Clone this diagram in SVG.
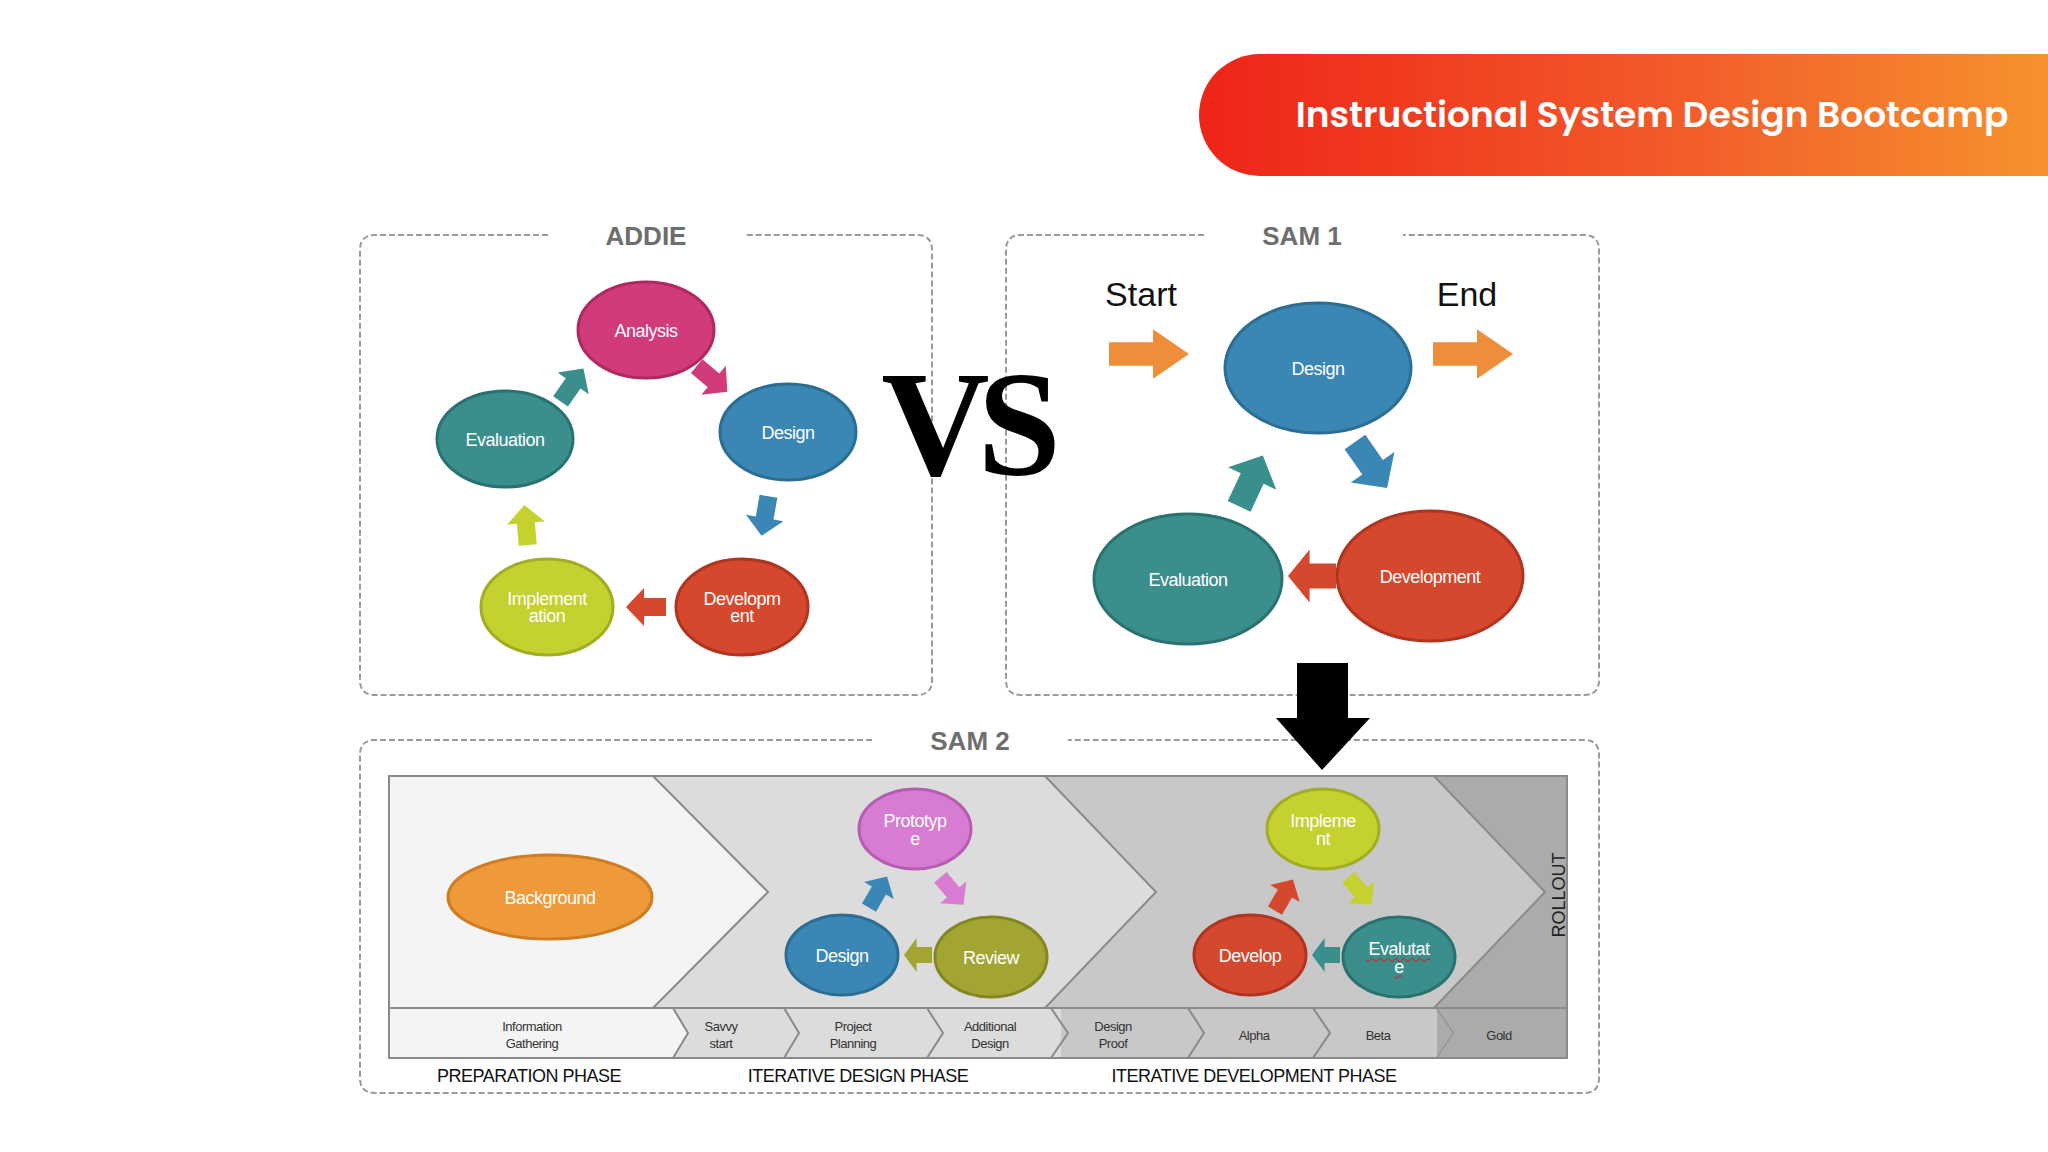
<svg xmlns="http://www.w3.org/2000/svg" width="2048" height="1152" viewBox="0 0 2048 1152">
<defs>
<linearGradient id="bg" x1="0" y1="0" x2="1" y2="0"><stop offset="0" stop-color="#EE2418"/><stop offset="0.55" stop-color="#F25A2A"/><stop offset="1" stop-color="#F6922E"/></linearGradient>
<path id="ar" d="M-20,-9 H2 V-19 L20,0 L2,19 V9 H-20 Z"/>
<style>
.box{fill:none;stroke:#9a9a9a;stroke-width:2;stroke-dasharray:6 3}
.ttl{font-family:"Liberation Sans",Arial,sans-serif;font-weight:bold;fill:#6e6e6e;font-size:26px;text-anchor:middle}
.n{stroke-width:3}
.lb{font-family:"Liberation Sans",Arial,sans-serif;fill:#fff;font-size:18px;text-anchor:middle;letter-spacing:-0.5px}
.sm{font-family:"Liberation Sans",Arial,sans-serif;fill:#333;font-size:13px;text-anchor:middle;letter-spacing:-0.5px}
.ph{font-family:"Liberation Sans",Arial,sans-serif;fill:#111;font-size:18px;text-anchor:middle;letter-spacing:-0.5px}
.sep{fill:none;stroke:#8a8a8a;stroke-width:2}
</style>
</defs>
<rect width="2048" height="1152" fill="#fff"/>
<g id="banner">
<path d="M1260,54 H2048 V176 H1260 A61,61 0 0 1 1260,54 Z" fill="url(#bg)"/>
<text x="1652" y="127" font-family="Poppins,Inter,'Open Sans',sans-serif" font-weight="600" font-size="36" fill="#fff" text-anchor="middle">Instructional System Design Bootcamp</text>
</g>
<g id="addie-box">
<path class="box" d="M548,235 H375 Q360,235 360,250 V680 Q360,695 375,695 H917 Q932,695 932,680 V250 Q932,235 917,235 H744"/>
<text class="ttl" x="646" y="245">ADDIE</text>
</g>
<g id="sam1-box">
<path class="box" d="M1204,235 H1021 Q1006,235 1006,250 V680 Q1006,695 1021,695 H1584 Q1599,695 1599,680 V250 Q1599,235 1584,235 H1403"/>
<text class="ttl" x="1302" y="245">SAM 1</text>
</g>
<g id="sam2-box">
<path class="box" d="M872,740 H375 Q360,740 360,755 V1078 Q360,1093 375,1093 H1584 Q1599,1093 1599,1078 V755 Q1599,740 1584,740 H1068"/>
<text class="ttl" x="970" y="750">SAM 2</text>
</g>
<g id="sam2-panel">
<rect x="389" y="776" width="1178" height="282" fill="#ABABAB" stroke="#8a8a8a" stroke-width="2"/>
<polygon points="389,776 1434,776 1545,892 1434,1008 389,1008" fill="#C8C8C8" stroke="#8a8a8a" stroke-width="2"/>
<polygon points="389,776 1045,776 1156,892 1045,1008 389,1008" fill="#DCDCDC" stroke="#8a8a8a" stroke-width="2"/>
<polygon points="389,776 653,776 768,892 653,1008 389,1008" fill="#F4F4F4" stroke="#8a8a8a" stroke-width="2"/>
<rect x="389" y="1008" width="1048" height="50" fill="#C8C8C8"/>
<rect x="389" y="1008" width="672" height="50" fill="#DCDCDC"/>
<polygon points="389,1008 673,1008 688,1033 673,1058 389,1058" fill="#F4F4F4"/>
<polyline class="sep" points="673,1008 688,1033 673,1058"/>
<polyline class="sep" points="784,1008 799,1033 784,1058"/>
<polyline class="sep" points="927,1008 943,1033 927,1058"/>
<polyline class="sep" points="1051,1008 1068,1033 1051,1058"/>
<polyline class="sep" points="1188,1008 1204,1033 1188,1058"/>
<polyline class="sep" points="1313,1008 1330,1033 1313,1058"/>
<polyline class="sep" points="1437,1008 1454,1033 1437,1058"/>
<polygon points="1437,1008 1567,1008 1567,1058 1437,1058 1454,1033" fill="#ABABAB"/>
<rect x="389" y="1008" width="1178" height="50" fill="none" stroke="#8a8a8a" stroke-width="2"/>
<text class="sm" x="532" y="1031">Information</text><text class="sm" x="532" y="1048">Gathering</text>
<text class="sm" x="721" y="1031">Savvy</text><text class="sm" x="721" y="1048">start</text>
<text class="sm" x="853" y="1031">Project</text><text class="sm" x="853" y="1048">Planning</text>
<text class="sm" x="990" y="1031">Additional</text><text class="sm" x="990" y="1048">Design</text>
<text class="sm" x="1113" y="1031">Design</text><text class="sm" x="1113" y="1048">Proof</text>
<text class="sm" x="1254" y="1040">Alpha</text>
<text class="sm" x="1378" y="1040">Beta</text>
<text class="sm" x="1499" y="1040">Gold</text>
<text transform="translate(1565,895) rotate(-90)" font-family="'Liberation Sans',Arial,sans-serif" font-size="18" fill="#222" text-anchor="middle">ROLLOUT</text>
<text class="ph" x="529" y="1082">PREPARATION PHASE</text>
<text class="ph" x="858" y="1082">ITERATIVE DESIGN PHASE</text>
<text class="ph" x="1254" y="1082">ITERATIVE DEVELOPMENT PHASE</text>
</g>
<g id="vs"><text x="965" y="475" font-family="'Liberation Serif','DejaVu Serif',serif" font-weight="bold" font-size="150" fill="#000" text-anchor="middle" letter-spacing="-12">VS</text></g>
<g id="addie-analysis"><ellipse class="n" cx="646" cy="330" rx="68" ry="48" fill="#D13A7B" stroke="#b0285f"/><text class="lb" x="646" y="337">Analysis</text></g>
<g id="addie-design"><ellipse class="n" cx="788" cy="432" rx="68" ry="48" fill="#3A87B5" stroke="#2b6d93"/><text class="lb" x="788" y="439">Design</text></g>
<g id="addie-evaluation"><ellipse class="n" cx="505" cy="439" rx="68" ry="48" fill="#3A8F8C" stroke="#2a7270"/><text class="lb" x="505" y="446">Evaluation</text></g>
<g id="addie-implementation"><ellipse class="n" cx="547" cy="607" rx="66" ry="48" fill="#C4D12F" stroke="#a1ad22"/><text class="lb" x="547" y="605">Implement</text><text class="lb" x="547" y="622">ation</text></g>
<g id="addie-development"><ellipse class="n" cx="742" cy="607" rx="66" ry="48" fill="#D5482E" stroke="#b03520"/><text class="lb" x="742" y="605">Developm</text><text class="lb" x="742" y="622">ent</text></g>
<g id="sam1-design"><ellipse class="n" cx="1318" cy="368" rx="93" ry="65" fill="#3A87B5" stroke="#2b6d93"/><text class="lb" x="1318" y="375">Design</text></g>
<g id="sam1-evaluation"><ellipse class="n" cx="1188" cy="579" rx="94" ry="65" fill="#3A8F8C" stroke="#2a7270"/><text class="lb" x="1188" y="586">Evaluation</text></g>
<g id="sam1-development"><ellipse class="n" cx="1430" cy="576" rx="93" ry="65" fill="#D5482E" stroke="#b03520"/><text class="lb" x="1430" y="583">Development</text></g>
<g id="sam1-start"><text x="1141" y="306" font-family="'Liberation Sans',Arial,sans-serif" font-size="34" fill="#111" text-anchor="middle">Start</text></g>
<g id="sam1-end"><text x="1467" y="306" font-family="'Liberation Sans',Arial,sans-serif" font-size="34" fill="#111" text-anchor="middle">End</text></g>
<g id="sam2-background"><ellipse class="n" cx="550" cy="897" rx="102" ry="42" fill="#EE9A3A" stroke="#cf7c22"/><text class="lb" x="550" y="904">Background</text></g>
<g id="sam2-prototype"><ellipse class="n" cx="915" cy="829" rx="56" ry="40" fill="#D77BD3" stroke="#b55db1"/><text class="lb" x="915" y="827">Prototyp</text><text class="lb" x="915" y="845">e</text></g>
<g id="sam2-design"><ellipse class="n" cx="842" cy="955" rx="56" ry="40" fill="#3A87B5" stroke="#2b6d93"/><text class="lb" x="842" y="962">Design</text></g>
<g id="sam2-review"><ellipse class="n" cx="991" cy="957" rx="56" ry="40" fill="#A3A532" stroke="#848622"/><text class="lb" x="991" y="964">Review</text></g>
<g id="sam2-implement"><ellipse class="n" cx="1323" cy="829" rx="56" ry="40" fill="#C4D12F" stroke="#a1ad22"/><text class="lb" x="1323" y="827">Impleme</text><text class="lb" x="1323" y="845">nt</text></g>
<g id="sam2-develop"><ellipse class="n" cx="1250" cy="955" rx="56" ry="40" fill="#D5482E" stroke="#b03520"/><text class="lb" x="1250" y="962">Develop</text></g>
<g id="sam2-evaluate"><ellipse class="n" cx="1399" cy="957" rx="56" ry="40" fill="#3A8F8C" stroke="#2a7270"/><text class="lb" x="1399" y="955">Evalutat</text><text class="lb" x="1399" y="973">e</text><path d="M1366,960 q2,3 4,0 t4,0 t4,0 t4,0 t4,0 t4,0 t4,0 t4,0 t4,0 t4,0 t4,0 t4,0 t4,0 t4,0 t4,0 t4,0 M1394,977 q2,3 4,0 t4,0" fill="none" stroke="#d22" stroke-width="1.2"/></g>
<g id="connectors">
<use href="#ar" fill="#3A8F8C" transform="translate(572,385) rotate(-55)"/>
<use href="#ar" fill="#D13A7B" transform="translate(712,379) rotate(40)"/>
<use href="#ar" fill="#3A87B5" transform="translate(765,516) rotate(100)"/>
<use href="#ar" fill="#D5482E" transform="translate(646,607) rotate(180)"/>
<use href="#ar" fill="#C4D12F" transform="translate(526,525) rotate(-95)"/>
<use href="#ar" fill="#EE8E3A" transform="translate(1149,354) scale(2,1.3)"/>
<use href="#ar" fill="#EE8E3A" transform="translate(1473,354) scale(2,1.3)"/>
<use href="#ar" fill="#3A8F8C" transform="translate(1251,481) rotate(-65) scale(1.4)"/>
<use href="#ar" fill="#3A87B5" transform="translate(1371,465) rotate(55) scale(1.4)"/>
<use href="#ar" fill="#D5482E" transform="translate(1312,576) rotate(180) scale(1.2,1.4)"/>
<path d="M1297,663 H1348 V718 H1370 L1322,770 L1276,718 H1297 Z" fill="#000"/>
<use href="#ar" fill="#3A87B5" transform="translate(878,892) rotate(-60) scale(0.9)"/>
<use href="#ar" fill="#D77BD3" transform="translate(952,891) rotate(50) scale(0.9)"/>
<use href="#ar" fill="#A3A532" transform="translate(918,955) rotate(180) scale(0.7,0.9)"/>
<use href="#ar" fill="#D5482E" transform="translate(1284,895) rotate(-60) scale(0.9)"/>
<use href="#ar" fill="#C4D12F" transform="translate(1360,891) rotate(50) scale(0.9)"/>
<use href="#ar" fill="#3A8F8C" transform="translate(1326,955) rotate(180) scale(0.7,0.9)"/>
</g>
</svg>
